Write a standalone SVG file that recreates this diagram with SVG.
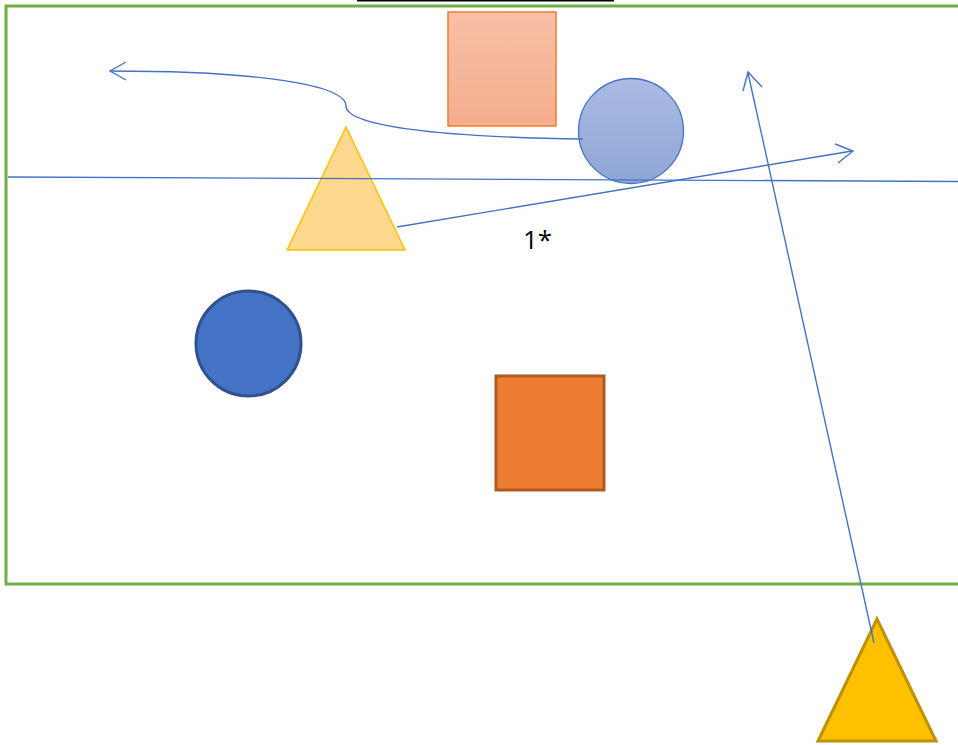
<svg xmlns="http://www.w3.org/2000/svg" width="958" height="745" viewBox="0 0 958 745">
<defs>
<style>
.conn{fill:none;stroke:#4472c4;stroke-width:1.4}
.head{fill:none;stroke:#4472c4;stroke-width:1.4;stroke-linejoin:miter}
.lbl{font-family:"Open Sans","Liberation Sans",sans-serif;font-size:26px;fill:#000}
</style>
<linearGradient id="gOrange" x1="0" y1="0" x2="0" y2="1">
<stop offset="0" stop-color="#f8c0a6"/>
<stop offset="1" stop-color="#f4ad8d"/>
</linearGradient>
<linearGradient id="gBlue" x1="0" y1="0" x2="0" y2="1">
<stop offset="0" stop-color="#abbbe3"/>
<stop offset="1" stop-color="#8ea5d6"/>
</linearGradient>
</defs>
<rect width="958" height="745" fill="#fff"/>
<line x1="357" y1="0.5" x2="614" y2="0.5" stroke="#000" stroke-width="2"/>
<g id="frame">
<rect x="6" y="6" width="970" height="578" fill="none" stroke="#70ad47" stroke-width="3"/>
</g>
<g id="sq-light">
<rect x="448" y="12" width="108" height="114" fill="url(#gOrange)" stroke="#ed7d31" stroke-width="1.5"/>
</g>
<g id="circle-light">
<circle cx="631" cy="131" r="52.5" fill="url(#gBlue)" stroke="#4472c4" stroke-width="1.3"/>
</g>
<g id="tri-light">
<polygon points="346,127 287,250 405,250" fill="#fed88f" stroke="#ffc000" stroke-width="1.5"/>
</g>
<g id="circle-blue">
<circle cx="248.5" cy="343.5" r="52.5" fill="#4472c4" stroke="#2f528f" stroke-width="3"/>
</g>
<g id="sq-orange">
<rect x="496" y="376" width="108" height="114" fill="#ed7d31" stroke="#ae5a21" stroke-width="3"/>
</g>
<g id="tri-gold">
<polygon points="877,619 818,741 936,741" fill="#ffc000" stroke="#bf9000" stroke-width="3"/>
</g>
<g id="connectors">
<line class="conn" x1="8" y1="177" x2="958" y2="181.5"/>
<path class="conn" d="M583,139 C430,137 346,125 346,106 C346,85 260,71 110,71"/>
<polyline class="head" points="126,62 110,71 126,80"/>
<line class="conn" x1="397" y1="227" x2="852" y2="151"/>
<polyline class="head" points="835,144 853,151 838,163"/>
<line class="conn" x1="874" y1="643" x2="748" y2="73"/>
<polyline class="head" points="743,91 748,72 762,87"/>
</g>
<text class="lbl" x="523" y="249">1*</text>
</svg>
